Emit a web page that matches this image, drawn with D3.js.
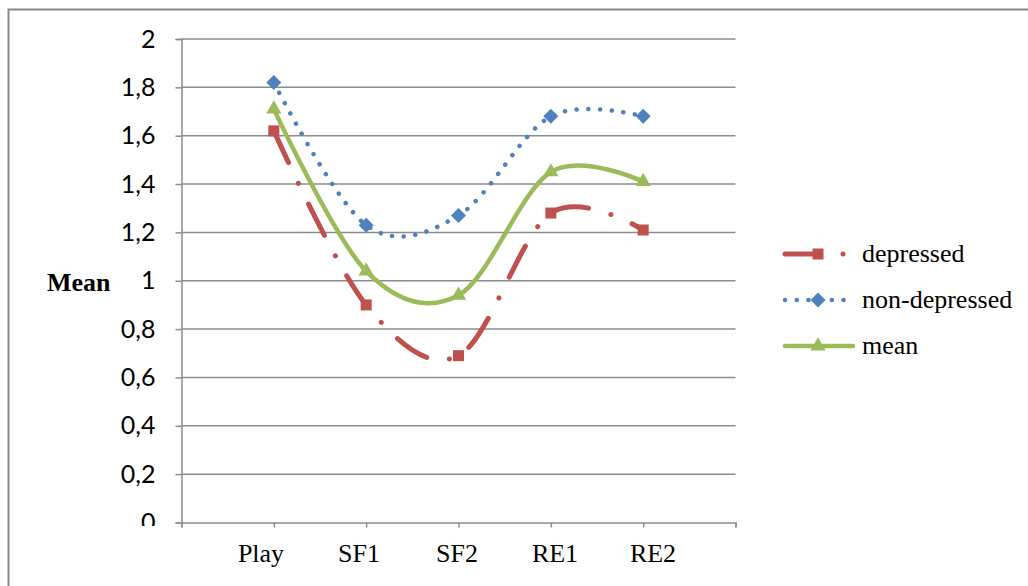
<!DOCTYPE html>
<html>
<head>
<meta charset="utf-8">
<script src="https://cdn.jsdelivr.net/npm/d3@7"></script>
<style>
  body { margin: 0; background: #fff; }
  svg { display: block; }
</style>
</head>
<body>
<script>
// categories and series values
var categories = ["Play", "SF1", "SF2", "RE1", "RE2"];
var depressed = [1.62, 0.90, 0.69, 1.28, 1.21];
var nonDepressed = [1.82, 1.23, 1.27, 1.68, 1.68];
var meanValues = [1.71, 1.04, 0.94, 1.45, 1.41];
var yTicks = [0, 0.2, 0.4, 0.6, 0.8, 1, 1.2, 1.4, 1.6, 1.8, 2];
var seriesNames = ["depressed", "non-depressed", "mean"];

window.onload = draw();

function draw() {
    var width = 1028,
        height = 586;

    var svg = d3.select("body")
        .append("svg")
        .attr("width", width)
        .attr("height", height);

    //frame (top and left edges show)
    svg.append("rect")
        .attr("x", 8.5).attr("y", 9.5)
        .attr("width", 1030).attr("height", 600)
        .attr("fill", "none")
        .attr("stroke", "#888")
        .attr("stroke-width", 2);

    var left = 181.5, right = 735.5, top = 39, bottom = 522.5;

    //categories sit on ticks 1..5, axis runs 0..6
    var x = d3.scaleLinear().domain([0, 6]).range([left, right]);
    var y = d3.scaleLinear().domain([0, 2]).range([bottom, top]);
    //category labels are spread slightly wider than the ticks in the original
    var labelX = d3.scaleLinear().domain([0, categories.length - 1]).range([261, 653]);

    //gridlines
    svg.selectAll(".grid")
        .data(yTicks.slice(1))
        .enter()
        .append("line")
        .attr("class", "grid")
        .attr("x1", left).attr("x2", right)
        .attr("y1", function(d){ return y(d); })
        .attr("y2", function(d){ return y(d); })
        .attr("stroke", "#8c8c8c")
        .attr("stroke-width", 1.5);

    //y axis
    var yAxis = d3.axisLeft(y)
        .tickValues(yTicks)
        .tickSize(6)
        .tickPadding(20)
        .tickFormat(function(d){ return String(d).replace(".", ","); });
    var gy = svg.append("g")
        .attr("transform", "translate(" + left + ",0)")
        .call(yAxis);
    gy.select(".domain").attr("stroke", "#8c8c8c").attr("stroke-width", 1.5);
    gy.selectAll(".tick line").attr("stroke", "#8c8c8c").attr("stroke-width", 1.5);
    gy.selectAll(".tick text")
        .attr("font-family", "Lato, 'Open Sans', sans-serif")
        .attr("font-size", 25)
        .attr("fill", "#000");

    //x axis
    var xAxis = d3.axisBottom(x)
        .tickValues([0, 1, 2, 3, 4, 5, 6])
        .tickSize(5)
        .tickFormat("");
    var gx = svg.append("g")
        .attr("transform", "translate(0," + bottom + ")")
        .call(xAxis);
    gx.select(".domain").attr("stroke", "#8c8c8c").attr("stroke-width", 1.5);
    gx.selectAll(".tick line").attr("stroke", "#8c8c8c").attr("stroke-width", 1.5);

    //cover bottom half of the "0" label like the cropped reference
    svg.append("rect")
        .attr("x", 100).attr("y", 526).attr("width", 70).attr("height", 20)
        .attr("fill", "#fff");

    svg.selectAll(".cat")
        .data(categories)
        .enter()
        .append("text")
        .attr("class", "cat")
        .attr("x", function(d, i){ return labelX(i); })
        .attr("y", 562)
        .attr("text-anchor", "middle")
        .attr("font-family", "'Liberation Serif', 'Times New Roman', serif")
        .attr("font-size", 26)
        .text(function(d){ return d; });

    //axis title
    svg.append("text")
        .attr("x", 47).attr("y", 291)
        .attr("font-family", "'Liberation Serif', 'Times New Roman', serif")
        .attr("font-size", 26)
        .attr("font-weight", "bold")
        .text("Mean");

    var line = d3.line()
        .x(function(d, i){ return x(i + 1); })
        .y(function(d){ return y(d); })
        .curve(d3.curveCardinal.tension(0));

    var styles = [
        {data: depressed, color: "#C0504D", width: 5, dash: "35,23,0.1,23", marker: "square"},
        {data: nonDepressed, color: "#4F81BD", width: 4.5, dash: "0.1,11.6", marker: "diamond"},
        {data: meanValues, color: "#9BBB59", width: 4.5, dash: null, marker: "triangle"}
    ];

    var diamond = function(){ return "M0,-7.5L7.5,0L0,7.5L-7.5,0Z"; };
    var symbols = {
        square: d3.symbol().type(d3.symbolSquare).size(121),
        diamond: diamond,
        triangle: d3.symbol().type(d3.symbolTriangle).size(100)
    };

    styles.forEach(function(s){
        svg.append("path")
            .datum(s.data)
            .attr("d", line)
            .attr("fill", "none")
            .attr("stroke", s.color)
            .attr("stroke-width", s.width)
            .attr("stroke-linecap", "round")
            .attr("stroke-dasharray", s.dash);
        svg.selectAll(".m-" + s.marker)
            .data(s.data)
            .enter()
            .append("path")
            .attr("class", "m-" + s.marker)
            .attr("transform", function(d, i){ return "translate(" + x(i + 1) + "," + y(d) + ")"; })
            .attr("d", symbols[s.marker])
            .attr("fill", s.color);
    });

    //legend
    var legend = svg.selectAll(".legend")
        .data(styles)
        .enter()
        .append("g")
        .attr("class", "legend")
        .attr("transform", function(d, i){ return "translate(785," + (254 + i * 46) + ")"; });
    legend.append("line")
        .attr("x1", 0).attr("x2", 68)
        .attr("stroke", function(d){ return d.color; })
        .attr("stroke-width", function(d){ return d.width; })
        .attr("stroke-linecap", "round")
        .attr("stroke-dasharray", function(d){ return d.dash; });
    legend.append("path")
        .attr("transform", "translate(33,0)")
        .attr("d", function(d){ return symbols[d.marker](); })
        .attr("fill", function(d){ return d.color; });
    legend.append("text")
        .attr("x", 77).attr("y", 8)
        .attr("font-family", "'Liberation Serif', 'Times New Roman', serif")
        .attr("font-size", 26)
        .text(function(d, i){ return seriesNames[i]; });
}
</script>
</body>
</html>
